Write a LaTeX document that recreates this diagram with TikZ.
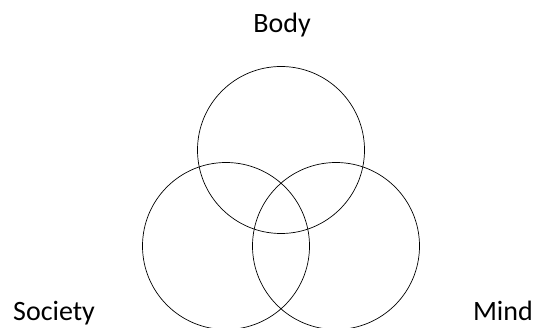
\documentclass[tikz,border=0pt]{standalone}
\usepackage{fontspec}
\setmainfont{Carlito}
\usepackage{tikz}
\usetikzlibrary{positioning}

\begin{document}
\begin{tikzpicture}[x=1pt, y=1pt,
    venn/.style={draw, circle, minimum size=167pt, inner sep=0pt, line width=0.7pt},
    lbl/.style={font=\fontsize{28}{34}\selectfont, inner sep=0pt}]

  \useasboundingbox (0,0) rectangle (538,327);

  % Circles
  \node[venn] (body) at (281,177) {};
  \node[venn] (society) at (226,81) {};
  \node[venn] (mind) at (336,81) {};

  % Labels
  \node[lbl, anchor=base] (bodylbl) at (282,294) {Body};
  \node[lbl, anchor=base west] (societylbl) at (13,6.5) {Society};
  \node[lbl, anchor=base east] (mindlbl) at (533,6.5) {Mind};

\end{tikzpicture}
\end{document}
